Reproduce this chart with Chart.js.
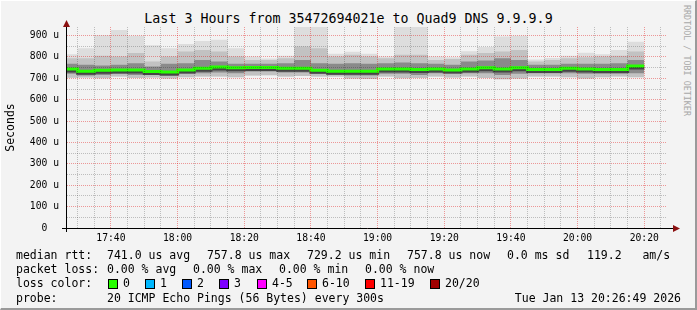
<!DOCTYPE html>
<html>
<head>
<meta charset="utf-8">
<script src="https://cdn.jsdelivr.net/npm/chart.js@4.4.1/dist/chart.umd.min.js"></script>
<style>
  html, body { margin: 0; padding: 0; }
  body {
    width: 697px; height: 310px; position: relative; overflow: hidden;
    background: #f3f3f3; color: #000;
    font-family: "DejaVu Sans Mono", monospace;
  }
  #frame {
    position: absolute; left: 0; top: 0; width: 697px; height: 310px;
    box-sizing: border-box; pointer-events: none;
    border-top: 1px solid #ffffff; border-left: 1px solid #ffffff;
    border-right: 2px solid #9a9a9a; border-bottom: 2px solid #9a9a9a;
  }
  #title {
    position: absolute; left: 0; top: 11px; width: 697px;
    text-align: center; font-size: 13.3px; line-height: 15px; white-space: pre;
  }
  #side {
    position: absolute; left: 682px; top: 5px; writing-mode: vertical-rl;
    font-size: 8.4px; color: #a8a8a8; white-space: pre; letter-spacing: 0;
  }
  #wrap { position: absolute; left: 0; top: 0; width: 697px; height: 250px; }
  .lg { position: absolute; font-size: 11.5px; line-height: 14px; white-space: pre; }
  .box { position: absolute; width: 8px; height: 8px; border: 1px solid #000; top: 279px; }
</style>
</head>
<body>
<div id="title">Last 3 Hours from 35472694021e to Quad9 DNS 9.9.9.9</div>
<div id="side">RRDTOOL / TOBI OETIKER</div>
<div id="wrap"><canvas id="smoke" width="697" height="250"></canvas></div>

<div class="lg" style="left:16px;top:248px">median rtt:</div>
<div class="lg" style="left:107px;top:248px">741.0 us avg</div>
<div class="lg" style="left:207px;top:248px">757.8 us max</div>
<div class="lg" style="left:307px;top:248px">729.2 us min</div>
<div class="lg" style="left:407px;top:248px">757.8 us now</div>
<div class="lg" style="left:507px;top:248px">0.0 ms sd</div>
<div class="lg" style="left:587px;top:248px">119.2   am/s</div>

<div class="lg" style="left:16px;top:262px">packet loss:</div>
<div class="lg" style="left:107px;top:262px">0.00 % avg</div>
<div class="lg" style="left:193px;top:262px">0.00 % max</div>
<div class="lg" style="left:279px;top:262px">0.00 % min</div>
<div class="lg" style="left:365px;top:262px">0.00 % now</div>

<div class="lg" style="left:16px;top:276px">loss color:</div>
<div id="lossKeys"></div>

<div class="lg" style="left:16px;top:291px">probe:</div>
<div class="lg" style="left:107px;top:291px">20 ICMP Echo Pings (56 Bytes) every 300s</div>
<div class="lg" style="right:16px;top:291px">Tue Jan 13 20:26:49 2026</div>
<div id="frame"></div>

<script>
// 5 minute buckets (start time of each step)
const bucketTimes = [
  "17:25", "17:30", "17:35", "17:40", "17:45", "17:50", "17:55",
  "18:00", "18:05", "18:10", "18:15", "18:20", "18:25", "18:30",
  "18:35", "18:40", "18:45", "18:50", "18:55", "19:00", "19:05",
  "19:10", "19:15", "19:20", "19:25", "19:30", "19:35", "19:40",
  "19:45", "19:50", "19:55", "20:00", "20:05", "20:10", "20:15",
];

// rtt in microseconds
const medianRtt = [
  744, 733, 738, 739, 739, 732, 729, 739, 747, 753, 749, 751, 751, 747,
  747, 738, 733, 733, 733, 744, 744, 741, 744, 739, 744, 749, 744, 749,
  741, 741, 747, 744, 741, 741, 758,
];
const maxRtt = [
  813, 841, 902, 926, 899, 855, 841, 860, 874, 880, 841, 802, 793, 805,
  960, 960, 815, 824, 815, 802, 960, 960, 802, 798, 827, 846, 895, 899,
  788, 795, 805, 819, 813, 832, 871,
];
const upperMid = [
  794, 794, 805, 802, 818, 779, 802, 826, 833, 826, 802, 786, 786, 794,
  849, 841, 802, 810, 802, 794, 810, 810, 786, 790, 810, 818, 826, 833,
  779, 786, 794, 799, 802, 805, 826,
];
const upperDark = [
  768, 763, 760, 763, 771, 755, 768, 771, 786, 779, 768, 768, 768, 771,
  786, 771, 768, 771, 768, 771, 774, 771, 768, 763, 779, 783, 794, 786,
  763, 763, 768, 768, 768, 771, 786,
];
const lowerDark = [
  721, 713, 716, 721, 716, 716, 711, 721, 724, 727, 724, 732, 732, 727,
  727, 721, 716, 713, 713, 721, 721, 716, 724, 721, 724, 724, 716, 721,
  724, 724, 724, 721, 721, 721, 724,
];
const minRtt = [
  703, 704, 700, 708, 702, 704, 699, 705, 708, 708, 705, 713, 714, 708,
  711, 708, 708, 699, 697, 708, 700, 702, 708, 704, 708, 702, 696, 699,
  708, 708, 705, 699, 705, 708, 705,
];

const xTickLabels = ["17:40", "18:00", "18:20", "18:40", "19:00", "19:20", "19:40", "20:00", "20:20"];
const lossLabels = ["0", "1", "2", "3", "4-5", "6-10", "11-19", "20/20"];
const lossColors = ["#26ff00", "#00b8ff", "#0059ff", "#7e00ff", "#ff00ff", "#ff5500", "#ff0000", "#a10000"];
const lossBoxX = [108, 145, 182, 219, 257, 307, 365, 430];

// graph window 17:26:49 .. 20:26:49, minutes after 17:00
const startMin = 26 + 49 / 60;
const endMin = startMin + 180;
const yMax = 940;

function toMin(t) {
  const [h, m] = t.split(":").map(Number);
  return (h - 17) * 60 + m;
}
function fmtMin(v) {
  const h = 17 + Math.floor(v / 60);
  const m = v % 60;
  return h + ":" + String(m).padStart(2, "0");
}

// step points: one per bucket start, plus the closing edge of the last bucket
function steps(vals) {
  const pts = bucketTimes.map((t, i) => ({ x: toMin(t), y: vals[i] }));
  pts.push({ x: toMin(bucketTimes[bucketTimes.length - 1]) + 5, y: vals[vals.length - 1] });
  return pts;
}

function band(lo, hi, color, order) {
  const base = { borderWidth: 0, borderColor: "transparent", pointRadius: 0, stepped: true, clip: 0, order };
  return [
    { ...base, label: "lo", data: steps(lo), fill: false },
    { ...base, label: "hi", data: steps(hi), fill: "-1", backgroundColor: color },
  ];
}

// loss color keys
const keys = document.getElementById("lossKeys");
lossLabels.forEach((lbl, i) => {
  const b = document.createElement("div");
  b.className = "box";
  b.style.left = lossBoxX[i] + "px";
  b.style.background = lossColors[i];
  keys.appendChild(b);
  const t = document.createElement("div");
  t.className = "lg";
  t.style.left = lossBoxX[i] + 15 + "px";
  t.style.top = "276px";
  t.textContent = lbl;
  keys.appendChild(t);
});

const tickFont = { family: "DejaVu Sans Mono", size: 9.7 };
const majorGrid = "rgba(225, 0, 0, 0.38)";
const minorGrid = "rgba(0, 0, 0, 0.22)";

const medianShadow = {
  id: "medianShadow",
  beforeDatasetDraw(chart, args) {
    if (chart.data.datasets[args.index].label !== "median") return;
    const ctx = chart.ctx;
    ctx.save();
    ctx.shadowColor = "#454545";
    ctx.shadowOffsetY = 2;
    ctx.shadowBlur = 0;
  },
  afterDatasetDraw(chart, args) {
    if (chart.data.datasets[args.index].label !== "median") return;
    chart.ctx.restore();
  },
};

const rrdAxes = {
  id: "rrdAxes",
  afterDraw(chart) {
    const { ctx, chartArea: a } = chart;
    const yb = Math.round(a.bottom) + 0.5;
    const xl = Math.round(a.left) - 0.5;
    ctx.save();
    ctx.strokeStyle = "#000";
    ctx.lineWidth = 1;
    ctx.beginPath();
    ctx.moveTo(a.left - 5, yb);
    ctx.lineTo(a.right + 6, yb);
    ctx.moveTo(xl, a.bottom + 4);
    ctx.lineTo(xl, a.top - 2);
    ctx.stroke();
    ctx.fillStyle = "#8b1010";
    ctx.beginPath();
    ctx.moveTo(a.right + 13, yb);
    ctx.lineTo(a.right + 6, yb - 3.5);
    ctx.lineTo(a.right + 6, yb + 3.5);
    ctx.closePath();
    ctx.fill();
    ctx.beginPath();
    ctx.moveTo(xl, a.top - 7);
    ctx.lineTo(xl - 3.5, a.top);
    ctx.lineTo(xl + 3.5, a.top);
    ctx.closePath();
    ctx.fill();
    ctx.restore();
  },
};

const datasets = [
  ...band(minRtt, maxRtt, "#dddddd", 6),
  ...band(minRtt, upperMid, "#c2c2c2", 5),
  ...band(lowerDark, upperDark, "#8a8a8a", 4),
  {
    label: "median",
    data: steps(medianRtt),
    borderColor: "#26ff00",
    borderWidth: 3,
    pointRadius: 0,
    stepped: true,
    fill: false,
    clip: 0,
    order: 1,
  },
];

new Chart(document.getElementById("smoke").getContext("2d"), {
  type: "line",
  data: { datasets },
  options: {
    responsive: false,
    animation: false,
    devicePixelRatio: 1,
    events: [],
    layout: { padding: { top: 27, right: 30, left: 0, bottom: 0 } },
    plugins: { legend: { display: false }, tooltip: { enabled: false } },
    scales: {
      x: {
        type: "linear",
        min: startMin,
        max: endMin,
        afterFit: (s) => { s.height = 22; },
        afterBuildTicks: (s) => {
          const ticks = [];
          for (let v = Math.ceil(startMin / 5) * 5; v < endMin; v += 5) ticks.push({ value: v });
          s.ticks = ticks;
        },
        ticks: {
          autoSkip: false,
          maxRotation: 0,
          padding: 5,
          color: "#000",
          font: tickFont,
          callback: (v) => (xTickLabels.includes(fmtMin(v)) ? fmtMin(v) : ""),
        },
        grid: {
          drawTicks: false,
          z: 1,
          color: (c) => (c.tick && xTickLabels.includes(fmtMin(c.tick.value)) ? majorGrid : minorGrid),
        },
        border: { display: false, dash: [1, 1] },
      },
      y: {
        type: "linear",
        min: 0,
        max: yMax,
        afterFit: (s) => { s.width = 67; },
        afterBuildTicks: (s) => {
          const ticks = [];
          for (let v = 0; v < yMax; v += 50) ticks.push({ value: v });
          s.ticks = ticks;
        },
        ticks: {
          autoSkip: false,
          padding: 8,
          color: "#000",
          font: tickFont,
          callback: (v) => (v % 100 !== 0 ? "" : v === 0 ? "0  " : v + " u"),
        },
        grid: {
          drawTicks: false,
          z: 1,
          color: (c) => (c.tick && c.tick.value % 100 === 0 ? majorGrid : minorGrid),
        },
        border: { display: false, dash: [1, 1] },
        title: {
          display: true,
          text: "Seconds",
          color: "#000",
          font: { family: "DejaVu Sans Mono", size: 11.5 },
          padding: { top: 4, bottom: 0 },
        },
      },
    },
  },
  plugins: [medianShadow, rrdAxes],
});
</script>
</body>
</html>
